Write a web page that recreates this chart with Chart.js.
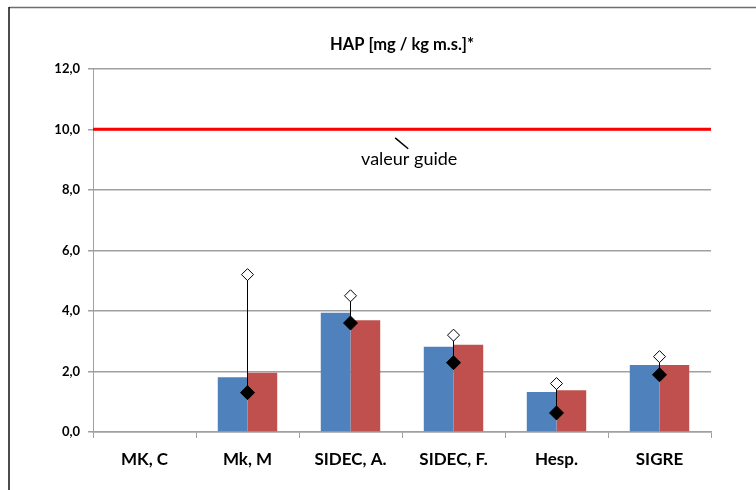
<!DOCTYPE html>
<html>
<head>
<meta charset="utf-8">
<script src="https://cdn.jsdelivr.net/npm/chart.js@4.4.0/dist/chart.umd.min.js"></script>
<style>
    body { margin: 0; background: #fff; }
    #wrap { position: relative; width: 756px; height: 490px; }
</style>
</head>
<body>
<div id="wrap"><canvas id="hap-chart" width="756" height="490"></canvas></div>
<script>
// HAP bars
let labels = ['MK, C', 'Mk, M', 'SIDEC, A.', 'SIDEC, F.', 'Hesp.', 'SIGRE'];
let blueValues = [null, 1.81, 3.94, 2.82, 1.32, 2.21];
let redValues = [null, 1.96, 3.69, 2.88, 1.38, 2.21];
let highValues = [null, 5.2, 4.5, 3.2, 1.6, 2.49];
let lowValues = [null, 1.3, 3.6, 2.29, 0.63, 1.89];
let guideValue = 10;
let yTicks = [0, 2, 4, 6, 8, 10, 12];

let fontName = 'Lato, "Open Sans", sans-serif';

// frame, guide line, connectors
let extras = {
    id: 'extras',
    beforeDraw: function (chart) {
        let c = chart.ctx;
        c.save();
        c.lineWidth = 1.5;
        c.strokeStyle = '#6e6e6e';
        c.beginPath();
        c.moveTo(9, 7.5);
        c.lineTo(756, 7.5);
        c.stroke();
        c.strokeStyle = '#111';
        c.beginPath();
        c.moveTo(9, 7);
        c.lineTo(9, 490);
        c.stroke();
        c.restore();
    },
    beforeDatasetsDraw: function (chart) {
        let c = chart.ctx;
        let area = chart.chartArea;
        let y = chart.scales.y;
        let x = chart.scales.x;
        let yy = y.getPixelForValue(guideValue);
        c.save();
        c.strokeStyle = '#ff0000';
        c.lineWidth = 3;
        c.beginPath();
        c.moveTo(area.left, yy);
        c.lineTo(area.right, yy);
        c.stroke();

        // label
        let tx = x.getPixelForValue(2.56);
        c.strokeStyle = '#000';
        c.lineWidth = 1.5;
        c.beginPath();
        c.moveTo(tx - 13, y.getPixelForValue(9.72));
        c.lineTo(tx, y.getPixelForValue(9.36));
        c.stroke();
        c.fillStyle = '#000';
        c.font = '18px ' + fontName;
        c.textAlign = 'center';
        c.textBaseline = 'middle';
        c.fillText('valeur guide', tx + 1, y.getPixelForValue(9.0));
        c.restore();
    },
    beforeDatasetDraw: function (chart, args) {
        if (args.index !== 2) return;
        let c = chart.ctx;
        let hi = chart.getDatasetMeta(2).data;
        let lo = chart.getDatasetMeta(3).data;
        c.save();
        c.strokeStyle = '#000';
        c.lineWidth = 1;
        for (let i = 0; i < hi.length; i++) {
            if (highValues[i] === null || lowValues[i] === null) continue;
            c.beginPath();
            c.moveTo(hi[i].x, hi[i].y);
            c.lineTo(lo[i].x, lo[i].y);
            c.stroke();
        }
        c.restore();
    }
};

let ctx = document.getElementById('hap-chart').getContext('2d');

let myChart = new Chart(ctx, {
    type: 'bar',
    data: {
        labels: labels,
        datasets: [{
            data: blueValues,
            backgroundColor: '#4f81bd',
            categoryPercentage: 0.577,
            barPercentage: 1,
            order: 3
        }, {
            data: redValues,
            backgroundColor: '#c0504d',
            categoryPercentage: 0.577,
            barPercentage: 1,
            order: 3
        }, {
            type: 'line',
            data: highValues,
            showLine: false,
            pointStyle: 'rectRot',
            pointRadius: 6,
            pointBackgroundColor: '#fff',
            pointBorderColor: '#000',
            pointBorderWidth: 1,
            order: 1
        }, {
            type: 'line',
            data: lowValues,
            showLine: false,
            pointStyle: 'rectRot',
            pointRadius: 7,
            pointBackgroundColor: '#000',
            pointBorderColor: '#000',
            pointBorderWidth: 1,
            order: 0
        }]
    },
    options: {
        responsive: false,
        animation: false,
        layout: {
            padding: { left: 0, right: 45, top: 0, bottom: 0 }
        },
        plugins: {
            legend: { display: false },
            tooltip: { enabled: false },
            title: {
                display: true,
                text: 'HAP [mg / kg m.s.]*',
                fullSize: false,
                color: '#000',
                font: { family: fontName, size: 16.5, weight: 'bold' },
                padding: { top: 35, bottom: 14 }
            }
        },
        scales: {
            x: {
                grid: {
                    drawOnChartArea: false,
                    drawTicks: true,
                    tickLength: 6,
                    color: '#a0a0a0'
                },
                border: { color: '#a0a0a0', width: 1.5 },
                ticks: {
                    color: '#000',
                    padding: 11,
                    font: { family: fontName, size: 17, weight: 'bold' }
                },
                afterFit: function (scale) { scale.height = 58; }
            },
            y: {
                min: 0,
                max: 12,
                afterBuildTicks: function (scale) {
                    scale.ticks = yTicks.map(function (v) { return { value: v }; });
                },
                grid: {
                    color: '#a0a0a0',
                    lineWidth: 1.5,
                    tickLength: 5
                },
                border: { color: '#a0a0a0', width: 1 },
                ticks: {
                    color: '#000',
                    padding: 8,
                    font: { family: fontName, size: 13, weight: 'bold' },
                    callback: function (value) {
                        return value.toFixed(1).replace('.', ',');
                    }
                },
                afterFit: function (scale) { scale.width = 93; }
            }
        }
    },
    plugins: [extras]
});
</script>
</body>
</html>
